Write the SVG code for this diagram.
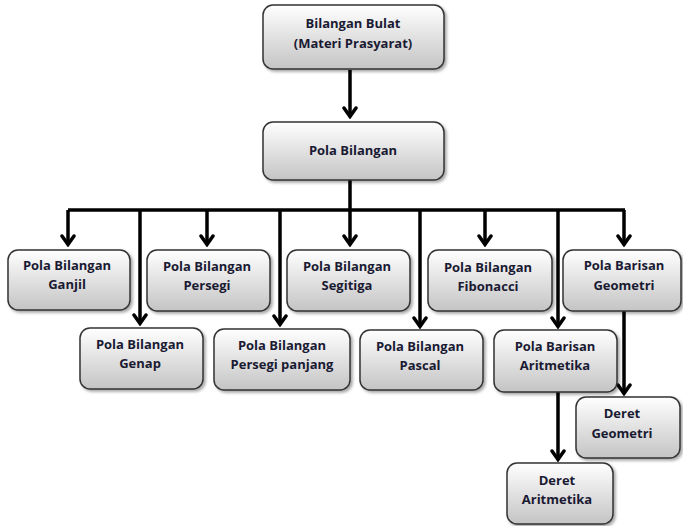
<svg xmlns="http://www.w3.org/2000/svg" width="683" height="526" viewBox="0 0 683 526">
<defs>
<linearGradient id="g" x1="0" y1="0" x2="0" y2="1">
<stop offset="0" stop-color="#ffffff"/>
<stop offset="1" stop-color="#c4c4c4"/>
</linearGradient>
<filter id="sh" x="-10%" y="-10%" width="130%" height="140%">
<feDropShadow dx="2" dy="2" stdDeviation="1.5" flood-color="#000" flood-opacity="0.35"/>
</filter>
<marker id="ah" viewBox="0 0 13 16" refX="11" refY="8" markerWidth="13" markerHeight="16" markerUnits="userSpaceOnUse" orient="auto">
<path d="M2,2 L10.5,8 L2,14" fill="none" stroke="#000" stroke-width="3.5" stroke-linecap="round" stroke-linejoin="miter"/>
</marker>
</defs>
<style>
.box{fill:url(#g);stroke:#333;stroke-width:1.5;filter:url(#sh)}
.t{font-family:"Open Sans","Liberation Sans",sans-serif;font-weight:bold;font-size:13px;fill:#1a1a33;text-anchor:middle}
.c{fill:none;stroke:#000;stroke-width:3.5}
.a{fill:none;stroke:#000;stroke-width:3.5;marker-end:url(#ah)}
</style>
<rect width="683" height="526" fill="#fff"/>
<g id="connectors">
<path class="a" d="M350,70 V117"/>
<path class="c" d="M350,180 V210"/>
<path class="c" d="M68,210 H625"/>
<path class="a" d="M68,210 V245"/>
<path class="a" d="M140,210 V324"/>
<path class="a" d="M207,210 V245"/>
<path class="a" d="M280,210 V325"/>
<path class="a" d="M350,210 V245"/>
<path class="a" d="M420,210 V327"/>
<path class="a" d="M485,210 V245"/>
<path class="a" d="M558,210 V327"/>
<path class="a" d="M624,210 V245"/>
<path class="a" d="M624,311 V394"/>
<path class="a" d="M558,392 V460"/>
</g>
<g id="bilangan-bulat"><rect class="box" x="263" y="5" width="181" height="64" rx="10"/><text class="t" x="353" y="28">Bilangan Bulat</text><text class="t" x="353" y="48">(Materi Prasyarat)</text></g>
<g id="pola-bilangan"><rect class="box" x="263" y="122" width="181" height="58" rx="10"/><text class="t" x="353" y="155">Pola Bilangan</text></g>
<g id="ganjil"><rect class="box" x="8" y="250" width="122" height="60" rx="10"/><text class="t" x="67" y="270">Pola Bilangan</text><text class="t" x="67" y="289">Ganjil</text></g>
<g id="persegi"><rect class="box" x="147" y="250" width="123" height="61" rx="10"/><text class="t" x="207" y="271">Pola Bilangan</text><text class="t" x="207" y="290">Persegi</text></g>
<g id="segitiga"><rect class="box" x="287" y="250" width="123" height="61" rx="10"/><text class="t" x="347" y="271">Pola Bilangan</text><text class="t" x="347" y="290">Segitiga</text></g>
<g id="fibonacci"><rect class="box" x="428" y="250" width="124" height="61" rx="10"/><text class="t" x="488" y="272">Pola Bilangan</text><text class="t" x="488" y="291">Fibonacci</text></g>
<g id="barisan-geometri"><rect class="box" x="563" y="250" width="118" height="61" rx="10"/><text class="t" x="624" y="270">Pola Barisan</text><text class="t" x="624" y="290">Geometri</text></g>
<g id="genap"><rect class="box" x="80" y="328" width="123" height="61" rx="10"/><text class="t" x="140" y="349">Pola Bilangan</text><text class="t" x="140" y="368">Genap</text></g>
<g id="persegi-panjang"><rect class="box" x="214" y="329" width="136" height="61" rx="10"/><text class="t" x="282" y="350">Pola Bilangan</text><text class="t" x="282" y="369">Persegi panjang</text></g>
<g id="pascal"><rect class="box" x="360" y="330" width="123" height="60" rx="10"/><text class="t" x="420" y="351">Pola Bilangan</text><text class="t" x="420" y="370">Pascal</text></g>
<g id="barisan-aritmetika"><rect class="box" x="494" y="330" width="123" height="62" rx="10"/><text class="t" x="555" y="351">Pola Barisan</text><text class="t" x="555" y="370">Aritmetika</text></g>
<g id="deret-geometri"><rect class="box" x="576" y="397" width="104" height="61" rx="10"/><text class="t" x="622" y="418">Deret</text><text class="t" x="622" y="438">Geometri</text></g>
<g id="deret-aritmetika"><rect class="box" x="507" y="463" width="106" height="61" rx="10"/><text class="t" x="557" y="485">Deret</text><text class="t" x="557" y="504">Aritmetika</text></g>
</svg>
